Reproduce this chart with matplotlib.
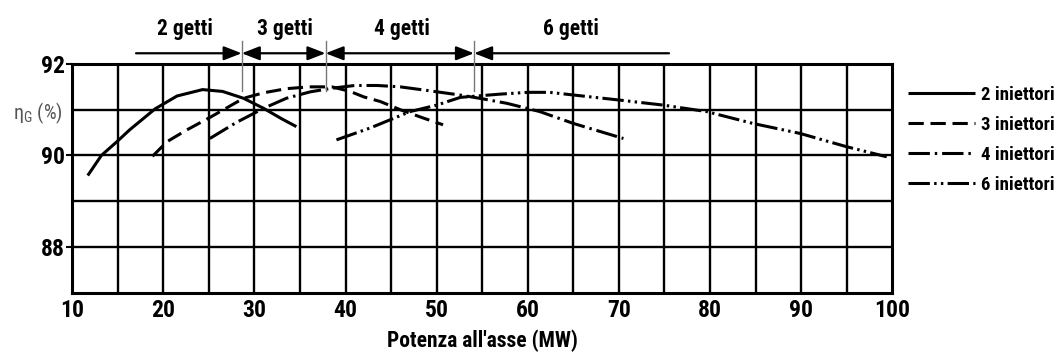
import matplotlib
matplotlib.use("Agg")
import matplotlib.pyplot as plt
from matplotlib import font_manager

# Efficiency curves of a Pelton plant for different numbers of active injectors
p_2inj = [11.7, 13.2, 14.9, 16.3, 19.1, 21.5, 24.3, 26.5, 28.8, 31.0, 33.0, 34.6]
eta_2inj = [89.56, 90.0, 90.3, 90.56, 91.02, 91.3, 91.44, 91.4, 91.25, 91.03, 90.8, 90.63]

p_3inj = [18.8, 20.4, 22.5, 25.1, 28.8, 31.0, 33.5, 36.0, 38.5, 40.5, 42.0, 43.8, 46.0, 48.5, 50.7]
eta_3inj = [89.98, 90.3, 90.55, 90.83, 91.25, 91.37, 91.46, 91.5, 91.5, 91.4, 91.28, 91.18, 91.0, 90.82, 90.67]

p_4inj = [25.1, 28.0, 31.0, 33.5, 36.1, 38.5, 41.0, 43.5, 46.0, 49.0, 52.6, 54.7, 57.7, 61.3, 65.0, 70.5]
eta_4inj = [90.37, 90.72, 91.03, 91.25, 91.39, 91.47, 91.53, 91.53, 91.5, 91.42, 91.32, 91.25, 91.14, 90.96, 90.7, 90.37]

p_6inj = [39.0, 42.7, 47.1, 50.0, 52.6, 56.9, 60.0, 62.4, 66.0, 70.1, 74.9, 79.6, 84.7, 89.9, 95.0, 99.4]
eta_6inj = [90.34, 90.6, 90.96, 91.1, 91.27, 91.34, 91.38, 91.38, 91.3, 91.21, 91.1, 90.96, 90.7, 90.48, 90.19, 89.97]

series_labels = ["2 iniettori", "3 iniettori", "4 iniettori", "6 iniettori"]

# Operating ranges (number of jets) shown above the chart
range_bounds = [17.0, 28.6, 37.8, 54.1, 75.5]
range_labels = ["2 getti", "3 getti", "4 getti", "6 getti"]
range_label_x = [22.4, 33.3, 46.2, 64.7]

x_ticks = [10, 20, 30, 40, 50, 60, 70, 80, 90, 100]
y_ticks = [88, 90, 92]

# pick a condensed sans face when one is available
fonts = font_manager.fontManager.ttflist
names = {f.name for f in fonts}
family = None
stretch = "normal"
for cand in ["Liberation Sans Narrow", "Arial Narrow", "Roboto Condensed", "Open Sans Condensed",
             "DejaVu Sans Condensed", "Noto Sans Condensed"]:
    if cand in names:
        family = cand
        break
if family is None:
    for f in fonts:
        if f.name in ("DejaVu Sans", "Noto Sans", "Open Sans", "Roboto") and str(f.stretch) in ("condensed", "semi-condensed", "75", "87.5"):
            family, stretch = f.name, "condensed"
            break
if family is None:
    family = "Liberation Sans"
plt.rcParams["font.family"] = [family, "DejaVu Sans"]
plt.rcParams["font.stretch"] = stretch

fig = plt.figure(figsize=(10.58, 3.55), dpi=100)
ax = fig.add_axes([0.0683, 0.176, 0.775, 0.6437])

ax.set_xlim(10, 100)
ax.set_ylim(87, 92)

# grid: every 5 MW and every 1 %
for gx in range(15, 100, 5):
    ax.axvline(gx, color="black", lw=1.7, zorder=1)
for gy in range(88, 92):
    ax.axhline(gy, color="black", lw=1.7, zorder=1)
for s in ax.spines.values():
    s.set_linewidth(2.2)

lw = 2.2
ax.plot(p_2inj, eta_2inj, color="black", lw=lw, solid_capstyle="butt", label=series_labels[0], zorder=3)
ax.plot(p_3inj, eta_3inj, color="black", lw=lw, dashes=(5, 2.2), label=series_labels[1], zorder=3)
ax.plot(p_4inj, eta_4inj, color="black", lw=lw, dashes=(7, 1.6, 0.8, 1.6), label=series_labels[2], zorder=3)
ax.plot(p_6inj, eta_6inj, color="black", lw=lw, dashes=(7, 1.4, 0.8, 1.4, 0.8, 1.4), label=series_labels[3], zorder=3)

ax.set_xticks(x_ticks)
ax.set_xticklabels([str(v) for v in x_ticks], fontsize=17, fontweight="bold")
ax.set_yticks(y_ticks)
ax.set_yticklabels([str(v) for v in y_ticks], fontsize=17, fontweight="bold")
ax.tick_params(axis="x", length=0, pad=5)
ax.tick_params(axis="y", length=4, width=1.5, pad=1)

ax.set_xlabel("Potenza all'asse (MW)", fontsize=15.5, fontweight="bold", labelpad=5)
fig.text(0.036, 0.68, r"$\mathregular{\eta_G}$ (%)", fontsize=14.5, color="#555555",
         ha="center", va="center")

leg = ax.legend(loc="upper left", bbox_to_anchor=(1.01, 0.937), frameon=False,
                handlelength=3.6, handletextpad=0.3, labelspacing=0.64,
                borderaxespad=0, prop={"weight": "bold", "size": 13.5})

# jet-range arrows above the plot
trans = ax.get_xaxis_transform()
y_arrow = 1.047
head = dict(color="black", lw=1.6, shrinkA=0, shrinkB=0)
style_one = "-|>,head_length=0.9,head_width=0.35"
style_two = "<|-|>,head_length=0.9,head_width=0.35"
segments = [(range_bounds[0], range_bounds[1], style_one),
            (range_bounds[1], range_bounds[2], style_two),
            (range_bounds[2], range_bounds[3], style_two),
            (range_bounds[4], range_bounds[3], style_one)]
for x0, x1, st in segments:
    ax.annotate("", xy=(x1, y_arrow), xytext=(x0, y_arrow), xycoords=trans, textcoords=trans,
                annotation_clip=False, arrowprops=dict(arrowstyle=st, mutation_scale=12, **head))
for b in range_bounds[1:4]:
    ax.plot([b, b], [0.88, 1.10], transform=trans, color="#777777", lw=1.0, clip_on=False, zorder=4)
for lx, lab in zip(range_label_x, range_labels):
    ax.text(lx, 1.155, lab, transform=trans, ha="center", va="center", fontsize=15.5, fontweight="bold")

fig.savefig("out.png", dpi=100)
